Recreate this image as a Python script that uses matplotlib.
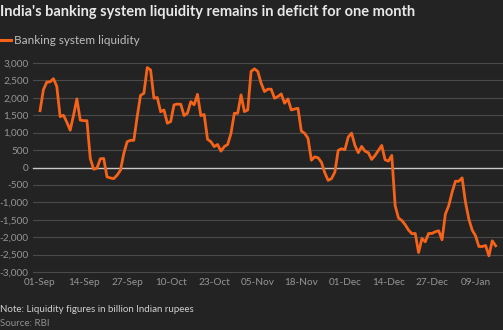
import matplotlib
matplotlib.use("Agg")
import matplotlib.pyplot as plt
import pandas as pd

values = [1630, 2230, 2450, 2460, 2550, 2330, 1460, 1500, 1300, 1070,
          1500, 1970, 1360, 1345, 1345, 260, -50, -20, 250, 260,
          -270, -300, -320, -220, -80, 400, 740, 780, 780, 1460,
          2070, 2130, 2870, 2800, 1990, 2010, 1600, 1650, 1270, 1320,
          1800, 1820, 1815, 1490, 1560, 1890, 1800, 2100, 1490, 1520,
          810, 740, 600, 660, 470, 600, 660, 980, 1556, 1556,
          2084, 1605, 1651, 2758, 2833, 2758, 2420, 2181, 2248, 2248,
          1988, 2037, 2113, 1844, 1968, 1651, 1680, 1700, 1046, 980,
          836, 210, 306, 280, 150, -150, -370, -320, -135, 490,
          539, 510, 873, 988, 634, 424, 605, 470, 424, 231,
          346, 490, 634, 222, 183, 346, -1095, -1450, -1520, -1643,
          -1797, -1900, -1893, -2440, -2037, -2133, -1893, -1893, -1844, -1816,
          -2075, -1335, -1095, -712, -395, -395, -297, -1000, -1479, -1796,
          -1960, -2268, -2268, -2240, -2536, -2104, -2248]
start_date = "2023-09-01"
dates = pd.date_range(start_date, periods=len(values), freq="D")
tick_labels = ["01-Sep", "14-Sep", "27-Sep", "10-Oct", "23-Oct", "05-Nov",
               "18-Nov", "01-Dec", "14-Dec", "27-Dec", "09-Jan"]
y_ticks = [-3000, -2500, -2000, -1500, -1000, -500, 0, 500, 1000, 1500, 2000, 2500, 3000]

BG = "#232323"
ORANGE = "#f5631a"
plt.rcParams['font.family'] = ['Lato', 'DejaVu Sans']

fig = plt.figure(figsize=(5.03, 3.30), dpi=100, facecolor=BG)
ax = fig.add_axes([33/503, 58/330, 1 - 33/503, 209/330])
ax.set_facecolor(BG)

tick_dates = pd.date_range(start_date, periods=len(tick_labels), freq="13D")
ax.plot(dates, values, color=ORANGE, lw=2.0, solid_joinstyle="round", zorder=3)

ax.set_ylim(-3000, 3000)
ax.set_xlim(pd.Timestamp(start_date) - pd.Timedelta(days=2.1), pd.Timestamp(start_date) + pd.Timedelta(days=138.2))
ax.set_yticks(y_ticks)
ax.set_yticklabels([f"{v:,}" for v in y_ticks])
ax.set_xticks(tick_dates)
ax.set_xticklabels(tick_labels)
for y in y_ticks:
    ax.axhline(y, color="#c8c8c8" if y == 0 else "#4a4a4a", lw=1.0 if y == 0 else 0.8, zorder=1,
               clip_on=False)
for s in ax.spines.values():
    s.set_visible(False)
ax.tick_params(axis="both", length=0, colors="#959595", labelsize=7.2)
ax.tick_params(axis="y", pad=3)
ax.tick_params(axis="x", pad=4)

fig.text(0.0, 1 - 12/330, "India's banking system liquidity remains in deficit for one month",
         color="#e8e8e8", fontsize=10.5, fontweight="bold", va="center", ha="left")
fig.add_artist(plt.Line2D([0, 11/503], [1 - 40/330, 1 - 40/330], color=ORANGE, lw=2.2))
fig.text(14/503, 1 - 40/330, "Banking system liquidity", color="#bdbdbd", fontsize=8.5,
         va="center", ha="left")
fig.text(0.0, 1 - 309/330, "Note: Liquidity figures in billion Indian rupees", color="#cfcfcf",
         fontsize=7, va="center", ha="left")
fig.text(0.0, 1 - 324/330, "Source: RBI", color="#8f8f8f", fontsize=7, va="center", ha="left")

fig.savefig("out.png", dpi=100, facecolor=BG)
